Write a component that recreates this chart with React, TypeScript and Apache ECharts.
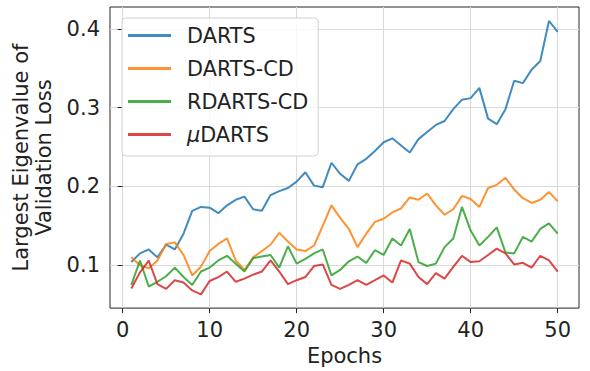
import React, { useEffect, useRef } from "react";
import * as echarts from "echarts";

const epochs = Array.from({ length: 50 }, (_, i) => i + 1);

const darts = [
  0.104, 0.115, 0.12, 0.11, 0.126, 0.12, 0.14, 0.169, 0.174, 0.173,
  0.166, 0.176, 0.183, 0.187, 0.171, 0.169, 0.189, 0.194, 0.198, 0.206,
  0.218, 0.201, 0.199, 0.23, 0.216, 0.207, 0.228, 0.235, 0.245, 0.256,
  0.261, 0.252, 0.243, 0.26, 0.269, 0.278, 0.283, 0.298, 0.31, 0.312,
  0.325, 0.286, 0.279, 0.298, 0.334, 0.331, 0.348, 0.359, 0.41, 0.396,
];
const dartsCD = [
  0.11, 0.1, 0.096, 0.106, 0.127, 0.129, 0.113, 0.087, 0.098, 0.118,
  0.127, 0.134, 0.106, 0.094, 0.11, 0.118, 0.126, 0.141, 0.13, 0.12,
  0.118, 0.125, 0.15, 0.176, 0.16, 0.146, 0.123, 0.14, 0.155, 0.159,
  0.167, 0.172, 0.186, 0.183, 0.191, 0.176, 0.164, 0.171, 0.188, 0.184,
  0.174, 0.198, 0.202, 0.211, 0.196, 0.185, 0.179, 0.183, 0.193, 0.181,
];
const rdartsCD = [
  0.075, 0.106, 0.073, 0.079, 0.086, 0.097, 0.085, 0.075, 0.092, 0.097,
  0.106, 0.112, 0.102, 0.092, 0.109, 0.111, 0.113, 0.097, 0.124, 0.102,
  0.108, 0.115, 0.12, 0.087, 0.094, 0.105, 0.111, 0.103, 0.119, 0.113,
  0.134, 0.125, 0.146, 0.104, 0.099, 0.102, 0.123, 0.134, 0.174, 0.144,
  0.125, 0.136, 0.148, 0.116, 0.115, 0.136, 0.13, 0.146, 0.153, 0.14,
];
const muDarts = [
  0.0705, 0.091, 0.106, 0.076, 0.07, 0.081, 0.078, 0.068, 0.063, 0.08,
  0.085, 0.092, 0.079, 0.083, 0.088, 0.092, 0.106, 0.092, 0.076, 0.081,
  0.085, 0.099, 0.101, 0.075, 0.07, 0.075, 0.081, 0.075, 0.081, 0.087,
  0.078, 0.106, 0.102, 0.085, 0.076, 0.09, 0.083, 0.098, 0.112, 0.104,
  0.105, 0.113, 0.121, 0.115, 0.101, 0.103, 0.097, 0.112, 0.106, 0.092,
];

const seriesNames = ["DARTS", "DARTS-CD", "RDARTS-CD", "μDARTS"];
const seriesValues = [darts, dartsCD, rdartsCD, muDarts];
const seriesColors = ["#1f77b4", "#ff7f0e", "#2ca02c", "#d62728"];
const xTicks = [0, 10, 20, 30, 40, 50];
const yTicks = [0.1, 0.2, 0.3, 0.4];

const FONT = "DejaVu Sans";
const FS = 21;
const LFS = 20.8;

export default function App() {
  const ref = useRef<HTMLDivElement>(null);
  useEffect(() => {
    if (!ref.current) return;
    const chart = echarts.init(ref.current, null, { renderer: "svg" });
    const option = {
      animation: false,
      backgroundColor: "#ffffff",
      textStyle: { fontFamily: FONT },
      grid: {
        left: 110,
        right: 11,
        top: 7,
        bottom: 60,
        show: true,
        borderColor: "#262626",
        borderWidth: 1,
        backgroundColor: "transparent",
      },
      legend: {
        left: 122,
        top: 18,
        orient: "vertical",
        data: seriesNames,
        icon: "rect",
        itemWidth: 43,
        itemHeight: 3,
        itemGap: 12,
        padding: [7, 10, 11, 6],
        backgroundColor: "rgba(255,255,255,0.8)",
        borderColor: "#d0d0d0",
        borderWidth: 1,
        borderRadius: 4,
        formatter: (name: string) =>
          name.startsWith("μ") ? "{i|μ}{n|" + name.slice(1) + "}" : "{n|" + name + "}",
        textStyle: {
          fontFamily: FONT,
          fontSize: LFS,
          lineHeight: 20,
          color: "#222",
          padding: [0, 0, 0, 11],
          rich: {
            i: { fontFamily: FONT, fontSize: LFS, fontStyle: "italic", color: "#222", lineHeight: 20 },
            n: { fontFamily: FONT, fontSize: LFS, color: "#222", lineHeight: 20 },
          },
        },
      },
      xAxis: {
        type: "value",
        min: -1.45,
        max: 52.45,
        name: "Epochs",
        nameLocation: "middle",
        nameGap: 35,
        nameTextStyle: { fontFamily: FONT, fontSize: FS, color: "#222", verticalAlign: "top", lineHeight: 21 },
        axisLine: { show: false },
        axisTick: { show: true, inside: false, length: 5, customValues: xTicks, lineStyle: { color: "#262626", width: 1 } },
        axisLabel: {
          customValues: xTicks,
          margin: 11,
          fontFamily: FONT,
          fontSize: FS,
          color: "#222",
        },
        splitLine: { show: true, lineStyle: { color: "#dadada", width: 1 } },
      },
      yAxis: {
        type: "value",
        min: 0.0456,
        max: 0.4276,
        name: "Largest Eigenvalue of\nValidation Loss",
        nameLocation: "middle",
        nameRotate: 90,
        nameGap: 49,
        nameTextStyle: { fontFamily: FONT, fontSize: FS, color: "#222", lineHeight: 23, align: "center" },
        axisLine: { show: false },
        axisTick: { show: true, inside: false, length: 5, customValues: yTicks, lineStyle: { color: "#262626", width: 1 } },
        axisLabel: {
          customValues: yTicks,
          margin: 10,
          fontFamily: FONT,
          fontSize: FS,
          color: "#222",
          formatter: (v: number) => v.toFixed(1),
        },
        splitLine: { show: true, lineStyle: { color: "#dadada", width: 1 } },
      },
      series: seriesNames.map((name, si) => ({
        name,
        type: "line",
        data: epochs.map((e, i) => [e, seriesValues[si][i]]),
        showSymbol: false,
        symbol: "none",
        color: seriesColors[si],
        lineStyle: { color: seriesColors[si], width: 2, opacity: 0.85 },
        itemStyle: { color: seriesColors[si], opacity: 0.85 },
      })),
    };
    chart.setOption(option);
    return () => chart.dispose();
  }, []);
  return (
    <div
      ref={ref}
      style={{ position: "absolute", left: 0, top: 0, width: 590, height: 371 }}
    />
  );
}
